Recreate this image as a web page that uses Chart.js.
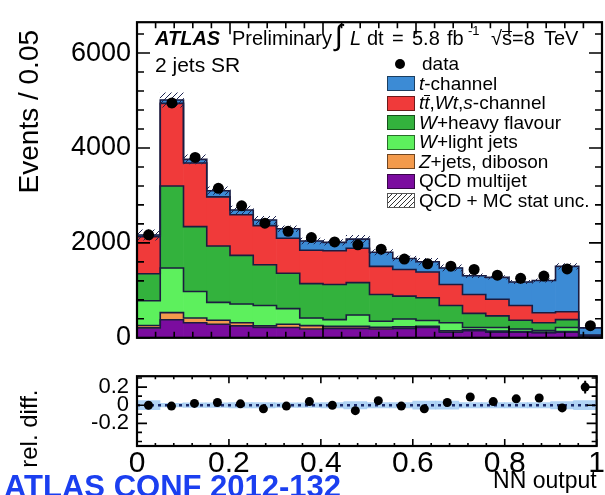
<!DOCTYPE html>
<html><head><meta charset="utf-8">
<script src="https://cdn.jsdelivr.net/npm/chart.js@4/dist/chart.umd.min.js"></script>
<style>
html,body{margin:0;padding:0;background:#fff;}
body{width:605px;height:495px;position:relative;overflow:hidden;font-family:"Liberation Sans",Arial,Helvetica,sans-serif;color:#000;}
canvas{position:absolute;left:0;}
#main{top:0;}
#ratio{top:355px;}
.t{position:absolute;white-space:nowrap;line-height:22px;font-size:21px;}
.h{font-size:20px;}
.box{position:absolute;left:387px;width:28px;height:15px;box-sizing:border-box;border:1px solid rgba(0,0,0,0.55);}
.lt{position:absolute;left:419px;white-space:nowrap;line-height:22px;font-size:19px;}
.ob{display:inline-block;border-top:1.4px solid #000;line-height:13px;padding-top:0;}
#conf{position:absolute;left:4px;top:469px;font-size:31px;font-weight:bold;color:#1b3ff0;white-space:nowrap;line-height:36px;}
</style></head><body>
<canvas id="main" width="605" height="360"></canvas>
<canvas id="ratio" width="605" height="140"></canvas>

<div id="header"></div>
<div class="t" style="left:155px;top:54px;">2 jets SR</div>

<div id="legend"></div>
<div id="conf">ATLAS CONF 2012-132</div>

<script>
// ---- data ----
const binCenters   = [0.025,0.075,0.125,0.175,0.225,0.275,0.325,0.375,0.425,0.475,0.525,0.575,0.625,0.675,0.725,0.775,0.825,0.875,0.925,0.975];
const binWidth     = 0.05;
const qcdMultijet  = [210,380,317,284,251,218,218,184,198,198,184,198,218,119,152,119,119,106,119,20];
const zjetsDiboson = [ 50,150, 99, 86, 66, 33, 66, 73, 42, 42, 36, 32, 22, 31, 18, 21, 11,  9, 11, 5];
const wLightJets   = [520,940,561,376,396,429,330,159,143,241,130,166,123,167, 48, 78, 54, 37, 88,10];
const wHeavyFlav   = [570,1730,1366,1188,1023,858,746,726,739,681,561,482,482,363,297,244,186,165,165,15];
const ttbarWtS     = [780,1740,1340,1036,858,825,739,703,713,725,594,561,541,442,396,350,310,211,165,10];
const tChannel     = [ 35, 70, 77,130, 99,119,198,195,175,193,297,231,218,350,396,461,495,680,957,150];
const dataEvents   = [2170,4950,3800,3150,2780,2416,2244,2112,2020,1960,1868,1660,1560,1510,1439,1320,1254,1300,1452,255];
const mcStatUnc    = [110,150,95,80,80,75,60,60,60,80,55,50,70,65,40,40,35,35,60,12];
const relDiff      = [0,-0.01,0.02,0.03,0.015,-0.04,-0.01,0.04,0,-0.06,0.05,-0.01,-0.04,0.03,0.09,0.04,0.07,0.08,-0.03,0.2];
const relDiffErr   = [0.045,0.015,0.02,0.02,0.02,0.03,0.02,0.02,0.025,0.04,0.025,0.025,0.04,0.03,0.03,0.03,0.03,0.03,0.035,0.07];
const relBandUnc   = [0.05,0.02,0.025,0.025,0.03,0.03,0.025,0.025,0.03,0.04,0.03,0.03,0.045,0.045,0.03,0.03,0.03,0.03,0.04,0.05];
const yTicksMain   = [0,2000,4000,6000];
const yTicksRatio  = [-0.2,0,0.2];
const xTicks       = [0,0.2,0.4,0.6,0.8,1];
const seriesNames  = ['QCD multijet','Z+jets, diboson','W+light jets','W+heavy flavour','tt,Wt,s-channel','t-channel'];

const components = [qcdMultijet, zjetsDiboson, wLightJets, wHeavyFlav, ttbarWtS, tChannel];
const colors = ['#7b0c9f','#f39a4c','#5df05d','#33b23d','#f03a3a','#3c8bd5'];
const FONT = '"Liberation Sans", Arial, Helvetica, sans-serif';

// cumulative stack levels
let run = binCenters.map(() => 0);
const levels = components.map(arr => { const lo = run; const hi = lo.map((v,i) => v + arr[i]); run = hi; return {lo, hi}; });
const total = run;

function makeHatch(color) {
  const c = document.createElement('canvas'); c.width = 6; c.height = 6;
  const g = c.getContext('2d'); g.strokeStyle = color; g.lineWidth = 1;
  g.beginPath(); g.moveTo(0,6); g.lineTo(6,0); g.moveTo(-1,1); g.lineTo(1,-1); g.moveTo(5,7); g.lineTo(7,5); g.stroke();
  return g.createPattern(c, 'repeat');
}
const hatch = makeHatch('#1d2450');

const frameTicks = {
  id: 'frameTicks',
  afterDatasetsDraw(chart, args, o) {
    const {ctx, chartArea: a, scales: {x, y}} = chart;
    ctx.save();
    ctx.strokeStyle = '#000'; ctx.lineWidth = 1.6;
    ctx.beginPath();
    const xt = (vals, len) => vals.forEach(v => { const p = x.getPixelForValue(v);
      ctx.moveTo(p, a.bottom); ctx.lineTo(p, a.bottom - len); ctx.moveTo(p, a.top); ctx.lineTo(p, a.top + len); });
    const yt = (vals, len) => vals.forEach(v => { const p = y.getPixelForValue(v);
      ctx.moveTo(a.left, p); ctx.lineTo(a.left + len, p); ctx.moveTo(a.right, p); ctx.lineTo(a.right - len, p); });
    xt(o.xMajor, o.xMajorLen); xt(o.xMinor, o.xMinorLen);
    yt(o.yMajor, o.yMajorLen); yt(o.yMinor, o.yMinorLen);
    ctx.stroke();
    ctx.lineWidth = 2.2;
    ctx.strokeRect(a.left, a.top, a.right - a.left, a.bottom - a.top);
    ctx.restore();
  }
};

const errorBars = {
  id: 'errorBars',
  afterDatasetsDraw(chart) {
    const {ctx, scales: {x, y}} = chart;
    ctx.save(); ctx.strokeStyle = '#000'; ctx.lineWidth = 2;
    ctx.beginPath();
    binCenters.forEach((c, i) => {
      const px = x.getPixelForValue(c);
      ctx.moveTo(px, y.getPixelForValue(relDiff[i] - relDiffErr[i]));
      ctx.lineTo(px, y.getPixelForValue(relDiff[i] + relDiffErr[i]));
    });
    ctx.stroke(); ctx.restore();
  }
};

const xMinor = []; for (let v = 0; v <= 1.0001; v += 0.04) xMinor.push(+v.toFixed(2));
const yMinorMain = []; for (let v = 0; v <= 6600; v += 400) yMinorMain.push(v);
const yMinorRatio = [-0.4,-0.3,-0.2,-0.1,0,0.1,0.2,0.3];

// ---- main panel ----
const outlineSets = levels.map(l => ({
  type: 'line', stepped: 'before', borderColor: '#1c1c40', borderWidth: 1.6, pointRadius: 0, fill: false,
  data: binCenters.map((c,i) => ({x: c - binWidth/2, y: l.hi[i]})).concat([{x: 1, y: l.hi[l.hi.length-1]}])
}));
const barSets = levels.map((l, k) => ({
  type: 'bar', label: seriesNames[k], backgroundColor: colors[k], borderWidth: 0, grouped: false,
  barPercentage: 1, categoryPercentage: 1,
  data: binCenters.map((c,i) => ({x: c, y: [l.lo[i], l.hi[i]]}))
}));

new Chart(document.getElementById('main'), {
  data: { datasets: [
    { type: 'line', label: 'data', showLine: false, pointRadius: 5.5, pointBackgroundColor: '#000', pointBorderWidth: 0,
      data: binCenters.map((c,i) => ({x: c, y: dataEvents[i]})) },
    { type: 'bar', label: 'QCD + MC stat unc.', backgroundColor: hatch, borderWidth: 0, grouped: false,
      barPercentage: 1, categoryPercentage: 1,
      data: binCenters.map((c,i) => ({x: c, y: [total[i] - mcStatUnc[i], total[i] + mcStatUnc[i]]})) },
    ...outlineSets.reverse(),
    ...barSets.reverse()
  ]},
  options: {
    responsive: false, animation: false, events: [],
    layout: { autoPadding: false, padding: {top: 10, right: 3, bottom: 14, left: 0} },
    plugins: { legend: {display: false}, tooltip: {enabled: false},
      frameTicks: { xMajor: xTicks, xMinor: xMinor, yMajor: yTicksMain, yMinor: yMinorMain,
                    xMajorLen: 12, xMinorLen: 6, yMajorLen: 13, yMinorLen: 7 } },
    scales: {
      x: { type: 'linear', min: 0, max: 1, display: false, offset: false },
      y: { type: 'linear', min: 0, max: 6650,
           afterBuildTicks: s => { s.ticks = yTicksMain.map(v => ({value: v})); },
           afterFit: s => { s.width = 137; },
           grid: {display: false, drawTicks: false}, border: {display: false},
           ticks: { color: '#000', padding: 6, font: {family: FONT, size: 27}, callback: v => String(v) },
           title: { display: true, text: 'Events / 0.05 ', align: 'end', color: '#000',
                    font: {family: FONT, size: 28}, padding: {top: 13, bottom: 0} } }
    }
  },
  plugins: [frameTicks]
});

// ---- ratio panel ----
new Chart(document.getElementById('ratio'), {
  data: { datasets: [
    { type: 'line', label: 'rel. diff.', showLine: false, pointRadius: 4.5, pointBackgroundColor: '#000', pointBorderWidth: 0,
      data: binCenters.map((c,i) => ({x: c, y: relDiff[i]})) },
    { type: 'line', borderColor: '#1b2a6b', borderWidth: 2.5, borderDash: [3,4], pointRadius: 0,
      data: [{x: 0, y: 0}, {x: 1, y: 0}] },
    { type: 'bar', backgroundColor: 'rgba(150,196,240,0.75)', borderWidth: 0, grouped: false,
      barPercentage: 1, categoryPercentage: 1,
      data: binCenters.map((c,i) => ({x: c, y: [-relBandUnc[i], relBandUnc[i]]})) }
  ]},
  options: {
    responsive: false, animation: false, events: [],
    layout: { autoPadding: false, padding: {top: 10, right: 3, bottom: 0, left: 0} },
    plugins: { legend: {display: false}, tooltip: {enabled: false},
      frameTicks: { xMajor: xTicks, xMinor: xMinor, yMajor: yTicksRatio, yMinor: yMinorRatio,
                    xMajorLen: 7, xMinorLen: 3, yMajorLen: 10, yMinorLen: 5 } },
    scales: {
      x: { type: 'linear', min: 0, max: 1, offset: false,
           afterBuildTicks: s => { s.ticks = xTicks.map(v => ({value: v})); },
           afterFit: s => { s.height = 49; },
           grid: {display: false, drawTicks: false}, border: {display: false},
           ticks: { color: '#000', padding: 0, maxRotation: 0, font: {family: FONT, size: 30},
                    callback: v => (v === 0 ? '0' : v === 1 ? '1' : v.toFixed(1)) },
           title: { display: true, text: 'NN output', align: 'end', color: '#000',
                    font: {family: FONT, size: 23}, padding: {top: 0, bottom: 0} } },
      y: { type: 'linear', min: -0.45, max: 0.32,
           afterBuildTicks: s => { s.ticks = yTicksRatio.map(v => ({value: v})); },
           afterFit: s => { s.width = 137; },
           grid: {display: false, drawTicks: false}, border: {display: false},
           ticks: { color: '#000', padding: 8, font: {family: FONT, size: 22},
                    callback: v => (v === 0 ? '0' : String(v)) },
           title: { display: true, text: 'rel. diff.  ', align: 'end', color: '#000',
                    font: {family: FONT, size: 24}, padding: {top: 16, bottom: 0} } }
    }
  },
  plugins: [frameTicks, errorBars]
});

// ---- header text (HTML) ----
const headerTokens = [
  {x: 155, html: '<b><i>ATLAS</i></b>'},
  {x: 232, html: 'Preliminary'},
  {x: 335, html: '&#8747;', size: 29, dy: -3},
  {x: 350, html: '<i>L</i>'},
  {x: 367, html: 'dt'},
  {x: 392, html: '='},
  {x: 412, html: '5.8'},
  {x: 447, html: 'fb'},
  {x: 468, html: '-1', size: 13, dy: -7},
  {x: 491, html: '&#8730;<span class="ob">s</span>=8'},
  {x: 544, html: 'TeV'}
];
const hdr = document.getElementById('header');
headerTokens.forEach(tk => {
  const d = document.createElement('div'); d.className = 't h';
  d.style.left = tk.x + 'px'; d.style.top = (27 + (tk.dy || 0)) + 'px';
  if (tk.size) d.style.fontSize = tk.size + 'px';
  d.innerHTML = tk.html; hdr.appendChild(d);
});

// ---- legend (HTML) ----
const legendRows = [
  {type: 'dot', html: 'data'},
  {color: colors[5], html: '<i>t</i>-channel'},
  {color: colors[4], html: '<i>t</i><i class="ob">t</i>,<i>Wt</i>,<i>s</i>-channel'},
  {color: colors[3], html: '<i>W</i>+heavy flavour'},
  {color: colors[2], html: '<i>W</i>+light jets'},
  {color: colors[1], html: '<i>Z</i>+jets, diboson'},
  {color: colors[0], html: 'QCD multijet'},
  {type: 'hatch', html: 'QCD + MC stat unc.'}
];
const legendY0 = 64, legendDy = 19.5;
const leg = document.getElementById('legend');
legendRows.forEach((r, i) => {
  const cy = legendY0 + i * legendDy;
  if (r.type === 'dot') {
    const d = document.createElement('div');
    d.style.cssText = `position:absolute;left:395px;top:${cy-5}px;width:10px;height:10px;border-radius:50%;background:#000;`;
    leg.appendChild(d);
    const t = document.createElement('div'); t.className = 'lt'; t.style.left = '422px'; t.style.top = (cy - 11) + 'px'; t.innerHTML = r.html; leg.appendChild(t);
    return;
  }
  const b = document.createElement('div'); b.className = 'box'; b.style.top = (cy - 7.5) + 'px';
  if (r.type === 'hatch') {
    b.style.background = 'repeating-linear-gradient(135deg, #fff 0px, #fff 2.5px, #333 2.5px, #333 3.5px)';
    b.style.border = '1px solid #555';
  } else b.style.background = r.color;
  leg.appendChild(b);
  const t = document.createElement('div'); t.className = 'lt'; t.style.top = (cy - 11) + 'px'; t.innerHTML = r.html; leg.appendChild(t);
});
</script>
</body></html>
